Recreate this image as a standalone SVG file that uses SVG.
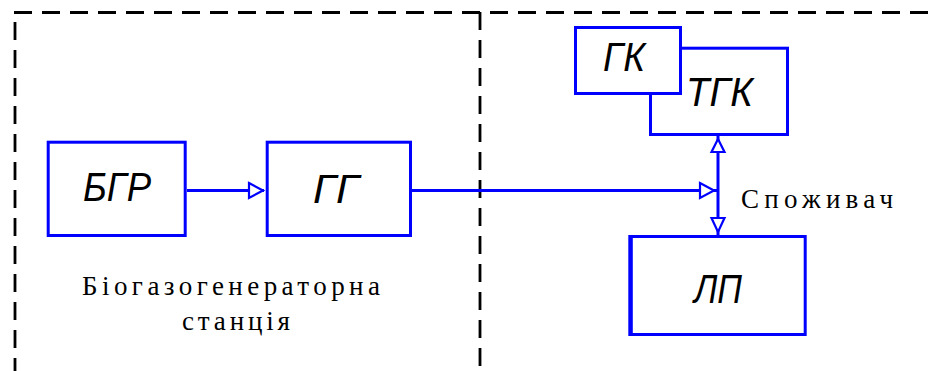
<svg xmlns="http://www.w3.org/2000/svg" width="928" height="371" viewBox="0 0 928 371">
  <style>
    .box { fill: #ffffff; stroke: #0000ff; stroke-width: 3; }
    .wire { fill: none; stroke: #0000ff; stroke-width: 3; }
    .head { fill: #ffffff; stroke: #0000ff; stroke-width: 2.2; stroke-linejoin: miter; }
    .border { fill: none; stroke: #000000; stroke-width: 2.8; stroke-dasharray: 18 10; }
    .lbl { font-family: "Liberation Sans", Arial, sans-serif; font-style: italic; font-size: 40px; fill: #000000; }
    .cap { font-family: "Liberation Serif", "Times New Roman", serif; font-size: 27px; fill: #000000; }
  </style>

  <!-- zone borders -->
  <g id="borders">
    <line class="border" x1="14" y1="12.5" x2="928" y2="12.5"/>
    <line class="border" x1="15" y1="22" x2="15" y2="371"/>
    <line class="border" x1="480" y1="12" x2="480" y2="371"/>
  </g>

  <!-- connectors -->
  <g id="connectors">
    <line class="wire" x1="187" y1="190.5" x2="264" y2="190.5"/>
    <polygon class="head" points="249,183 263,190.5 249,198"/>
    <line class="wire" x1="412" y1="190.5" x2="717" y2="190.5"/>
    <polygon class="head" points="700,183 714,190.5 700,198"/>
    <line class="wire" x1="718" y1="136" x2="718" y2="235"/>
    <polygon class="head" points="718,139 711.5,152 724.5,152"/>
    <polygon class="head" points="711.5,218 724.5,218 718,232"/>
  </g>

  <g id="node-bgr">
    <rect class="box" x="48.2" y="142.2" width="137" height="93.3"/>
    <text class="lbl" x="83" y="201" textLength="68" lengthAdjust="spacingAndGlyphs">БГР</text>
  </g>

  <g id="node-gg">
    <rect class="box" x="267.2" y="142.2" width="143.3" height="93.3"/>
    <text class="lbl" x="313" y="203" textLength="46" lengthAdjust="spacingAndGlyphs">ГГ</text>
  </g>

  <g id="node-tgk">
    <rect class="box" x="650.5" y="48.2" width="137" height="86.3"/>
    <text class="lbl" x="686" y="106" textLength="67" lengthAdjust="spacingAndGlyphs">ТГК</text>
  </g>

  <g id="node-gk">
    <rect class="box" x="575.5" y="27.5" width="105" height="66"/>
    <text class="lbl" x="603" y="71" font-size="43" textLength="42" lengthAdjust="spacingAndGlyphs">ГК</text>
  </g>

  <g id="node-lp">
    <rect class="box" x="629.8" y="236.5" width="175.4" height="98"/>
    <line class="wire" x1="631.3" y1="235" x2="631.3" y2="336" stroke-width="6"/>
    <text class="lbl" x="694" y="303" font-size="38" textLength="48" lengthAdjust="spacingAndGlyphs">ЛП</text>
  </g>

  <g id="label-consumer">
    <text class="cap" x="741" y="208" textLength="152" lengthAdjust="spacing">Споживач</text>
  </g>

  <g id="label-station">
    <text class="cap" x="82" y="295" textLength="298" lengthAdjust="spacing">Біогазогенераторна</text>
    <text class="cap" x="182" y="330" textLength="108" lengthAdjust="spacing">станція</text>
  </g>
</svg>
